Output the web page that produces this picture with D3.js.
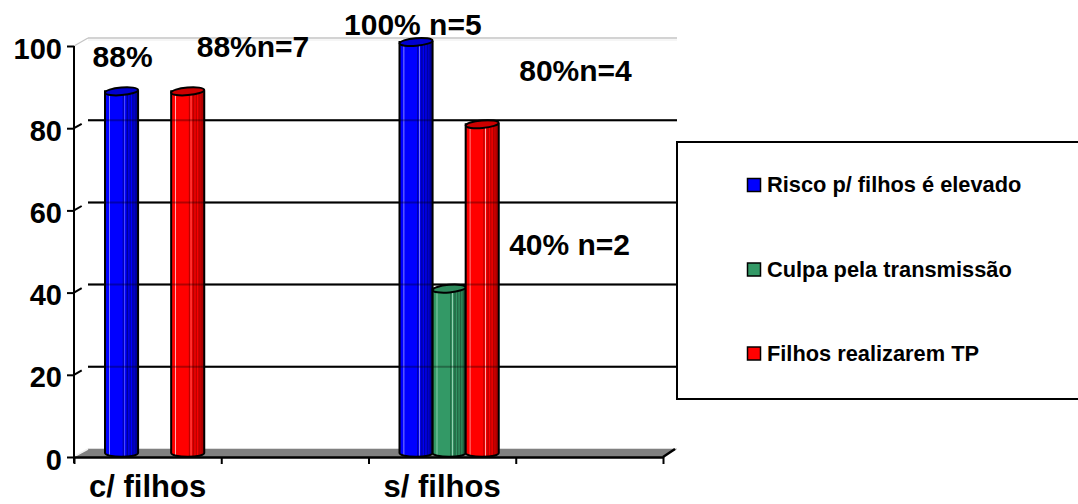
<!DOCTYPE html>
<html>
<head>
<meta charset="utf-8">
<script src="https://cdn.jsdelivr.net/npm/d3@7"></script>
<style>
  html, body { margin: 0; padding: 0; background: #ffffff; }
  svg { display: block; }
  text { font-family: "Liberation Sans", Arial, sans-serif; font-weight: bold; fill: #000; }
</style>
</head>
<body>
<svg id="chart" width="1078" height="504"></svg>
<script>
// Categories on the horizontal axis (slots 2 and 4 are unlabelled)
const categories = ["c/ filhos", "", "s/ filhos", ""];

// Series names and values (percent)
const seriesNames = ["Risco p/ filhos é elevado", "Culpa pela transmissão", "Filhos realizarem TP"];
const riscoValues = [88, null, 100, null];
const culpaValues = [null, null, 40, null];
const filhosTPValues = [88, null, 80, null];

// Sample-size suffixes shown next to the percentages
const riscoCounts = ["", null, " n=5", null];
const culpaCounts = [null, null, " n=2", null];
const filhosTPCounts = ["n=7", null, "n=4", null];

// Axis ticks
const yTickValues = [0, 20, 40, 60, 80, 100];

const seriesColors = ["#0000ff", "#339966", "#ff0000"];
const seriesDark = ["#00009a", "#1f5e3e", "#b00000"];
const seriesTop = ["#0000d0", "#2e8a5c", "#cc0000"];
const seriesHi = ["#9a9aff", "#9fd8bb", "#ffb0b0"];

const seriesValues = [riscoValues, culpaValues, filhosTPValues];
const seriesCounts = [riscoCounts, culpaCounts, filhosTPCounts];

const svg = d3.select("#chart");

// Plot geometry (front plane) and 3D depth offset
const x0 = 74, x1 = 663, yBottom = 457, yTop = 46;
const depthX = 14, depthY = -8;

const y = d3.scaleLinear().domain([0, 100]).range([yBottom, yTop]);
const xCat = d3.scaleBand().domain(d3.range(categories.length)).range([x0, x1]).padding(0);
const xEdge = d3.scaleLinear().domain([0, categories.length]).range([x0, x1]);
const bw = xCat.bandwidth();
const xSeries = d3.scaleBand().domain(d3.range(seriesNames.length)).range([bw * 0.163, bw * 0.837]).padding(0);

// Floor
svg.append("polygon")
  .attr("points", [[x0, yBottom], [x1, yBottom], [x1 + depthX, yBottom + depthY], [x0 + depthX, yBottom + depthY]].map(p => p.join(",")).join(" "))
  .attr("fill", "#808080");
svg.append("line")
  .attr("x1", x0 + depthX).attr("y1", yBottom + depthY - 0.5)
  .attr("x2", x1 + depthX).attr("y2", yBottom + depthY - 0.5)
  .attr("stroke", "#dcdcdc").attr("stroke-width", 1.2);
svg.append("line")
  .attr("x1", x0 + 1).attr("y1", yBottom - 1)
  .attr("x2", x0 + depthX).attr("y2", yBottom + depthY)
  .attr("stroke", "#f0f0f0").attr("stroke-width", 1.5);
svg.append("line")
  .attr("x1", x1).attr("y1", yBottom)
  .attr("x2", x1 + depthX - 2).attr("y2", yBottom + depthY)
  .attr("stroke", "#000").attr("stroke-width", 2.5);

// Back wall top edge and side wall top edge
svg.append("line")
  .attr("x1", x0 + depthX).attr("y1", y(100) + depthY)
  .attr("x2", x1 + depthX).attr("y2", y(100) + depthY)
  .attr("stroke", "#c4c4c4").attr("stroke-width", 1.3);
svg.append("line")
  .attr("x1", x0 + depthX).attr("y1", y(100) + depthY + 2)
  .attr("x2", x1 + depthX).attr("y2", y(100) + depthY + 2)
  .attr("stroke", "#ececec").attr("stroke-width", 1);
svg.append("line")
  .attr("x1", x0).attr("y1", y(100))
  .attr("x2", x0 + depthX).attr("y2", y(100) + depthY)
  .attr("stroke", "#c4c4c4").attr("stroke-width", 1.3);

// Gridlines on the back wall plus their side-wall segments
const gridVals = yTickValues.filter(v => v > 0 && v < 100);
const grid = svg.append("g");
grid.selectAll("line.back").data(gridVals).join("line")
  .attr("class", "back")
  .attr("x1", x0 + depthX).attr("x2", x1 + depthX)
  .attr("y1", d => y(d) + depthY).attr("y2", d => y(d) + depthY)
  .attr("stroke", "#000").attr("stroke-width", 2);
grid.selectAll("line.side").data(gridVals).join("line")
  .attr("class", "side")
  .attr("x1", x0).attr("y1", d => y(d))
  .attr("x2", x0 + depthX * 0.55).attr("y2", d => y(d) + depthY * 0.55)
  .attr("stroke", "#000").attr("stroke-width", 2);

// Cylinder gradients
const defs = svg.append("defs");
seriesColors.forEach((c, i) => {
  const g = defs.append("linearGradient").attr("id", "cyl" + i)
    .attr("x1", "0%").attr("x2", "100%").attr("y1", "0%").attr("y2", "0%");
  const stops = [
    [0, seriesDark[i]], [0.04, c], [0.11, c], [0.13, seriesHi[i]], [0.16, c],
    [0.52, c], [0.55, seriesDark[i]], [0.58, c], [0.6, seriesHi[i]], [0.62, c],
    [0.68, seriesDark[i]], [0.72, c], [0.76, seriesDark[i]], [0.8, c],
    [0.84, seriesDark[i]], [0.88, seriesTop[i]], [0.93, seriesDark[i]], [1, seriesDark[i]]
  ];
  stops.forEach(s => g.append("stop").attr("offset", s[0]).attr("stop-color", s[1]));
});

// Cylinders
const rx = xSeries.bandwidth() / 2, ry = 3.8;
const bars = [];
seriesValues.forEach((vals, si) => {
  vals.forEach((v, ci) => {
    if (v == null) return;
    const cx = xCat(ci) + xSeries(si) + rx + depthX / 2;
    const yt = y(v) + depthY / 2;
    const yb = y(0) + depthY / 2;
    bars.push({ si, ci, v, cx, yt, yb });
  });
});

const barG = svg.append("g");
bars.forEach(b => {
  barG.append("path")
    .attr("d", `M${b.cx - rx},${b.yt} L${b.cx - rx},${b.yb} A${rx},${ry} 0 0 0 ${b.cx + rx},${b.yb} L${b.cx + rx},${b.yt} Z`)
    .attr("fill", `url(#cyl${b.si})`)
    .attr("stroke", "#000").attr("stroke-width", 2);
  barG.append("ellipse")
    .attr("cx", b.cx).attr("cy", b.yt)
    .attr("rx", rx).attr("ry", ry)
    .attr("transform", `rotate(-5 ${b.cx} ${b.yt})`)
    .attr("fill", seriesTop[b.si])
    .attr("stroke", "#000").attr("stroke-width", 2);
});

// Gridlines faintly visible across the cylinders
svg.append("g").selectAll("line").data(gridVals).join("line")
  .attr("x1", x0 + depthX).attr("x2", x1 + depthX)
  .attr("y1", d => y(d) + depthY).attr("y2", d => y(d) + depthY)
  .attr("stroke", "#000").attr("stroke-width", 2).attr("opacity", 0.3);

// Y axis
const yAxis = svg.append("g")
  .attr("transform", `translate(${x0},0)`)
  .call(d3.axisLeft(y).tickValues(yTickValues).tickSize(7).tickSizeOuter(0).tickPadding(5));
yAxis.select(".domain").attr("stroke", "#000").attr("stroke-width", 2)
  .attr("d", `M0,${yTop}V${yBottom + 6}`);
yAxis.selectAll(".tick line").attr("stroke", "#000").attr("stroke-width", 2);
yAxis.selectAll(".tick text")
  .attr("font-size", 29).attr("dy", "0.42em")
  .style("font-family", '"Liberation Sans", Arial, sans-serif').style("font-weight", "bold");

// X axis: tick marks at category boundaries
const xAxis = svg.append("g")
  .attr("transform", `translate(0,${yBottom})`)
  .call(d3.axisBottom(xEdge).tickValues(d3.range(categories.length + 1)).tickSize(7).tickSizeOuter(0).tickFormat(""));
xAxis.select(".domain").attr("stroke", "#000").attr("stroke-width", 2.5);
xAxis.selectAll(".tick line").attr("stroke", "#000").attr("stroke-width", 2);

// Category labels
const catAxis = svg.append("g")
  .attr("transform", `translate(0,${yBottom})`)
  .call(d3.axisBottom(xCat).tickSize(0).tickPadding(0).tickFormat(i => categories[i]));
catAxis.select(".domain").remove();
catAxis.selectAll(".tick text")
  .attr("font-size", 31).attr("y", 40).attr("dy", 0)
  .style("font-family", '"Liberation Sans", Arial, sans-serif').style("font-weight", "bold");

// Value labels, placed relative to each cylinder top
const labelOffsets = {
  "0-0": { dx: -29, dy: -24 },
  "2-0": { dx: 9, dy: -34 },
  "0-2": { dx: -72, dy: -7 },
  "2-2": { dx: 37, dy: -43 },
  "1-2": { dx: 60, dy: -34 }
};
const labelG = svg.append("g");
bars.forEach(b => {
  const suffix = seriesCounts[b.si][b.ci];
  const off = labelOffsets[b.si + "-" + b.ci];
  labelG.append("text")
    .attr("x", b.cx + off.dx).attr("y", b.yt + off.dy)
    .attr("font-size", 30)
    .text(b.v + "%" + (suffix || ""));
});

// Legend
const legend = svg.append("g");
legend.append("rect")
  .attr("x", 677).attr("y", 142).attr("width", 420).attr("height", 257)
  .attr("fill", "#fff").attr("stroke", "#000").attr("stroke-width", 2);
const rowBaselines = [192, 276.5, 360.5];
seriesNames.forEach((name, i) => {
  legend.append("rect")
    .attr("x", 747.5).attr("y", rowBaselines[i] - 13.5).attr("width", 13).attr("height", 13)
    .attr("fill", seriesColors[i]).attr("stroke", "#000").attr("stroke-width", 1.5);
  legend.append("text")
    .attr("x", 767).attr("y", rowBaselines[i])
    .attr("font-size", 21.8)
    .text(name);
});
</script>
</body>
</html>
